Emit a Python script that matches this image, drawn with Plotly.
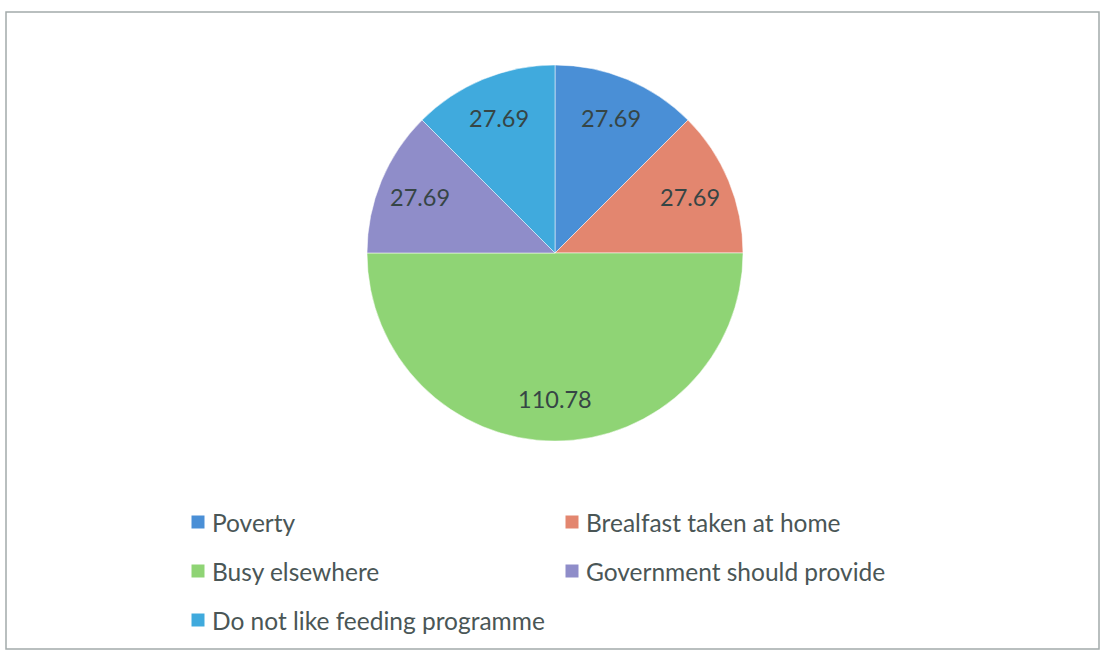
import math
import plotly.graph_objects as go

# Reasons given, in clockwise order from 12 o'clock
categories = [
    "Poverty",
    "Brealfast taken at home",
    "Busy elsewhere",
    "Government should provide",
    "Do not like feeding programme",
]
values = [27.69, 27.69, 110.78, 27.69, 27.69]
colors = ["#4a8fd6", "#e3866f", "#8fd475", "#8f8dc9", "#40aadd"]

W, H = 1102, 652
CX, CY, R = 555, 253, 188  # pie centre and radius in pixels
LABEL_FONT = dict(family="Lato, Open Sans, sans-serif", size=23.5, color="#364545")
LEGEND_FONT = dict(family="Lato, Open Sans, sans-serif", size=24.5, color="#4a5656")


def px(x):
    return x / W


def py(y):
    return 1 - y / H


fig = go.Figure(
    go.Pie(
        labels=categories,
        values=values,
        sort=False,
        direction="clockwise",
        rotation=0,
        marker=dict(colors=colors, line=dict(color="rgba(255,255,255,0.5)", width=1)),
        textinfo="none",
        hoverinfo="label+value",
        showlegend=False,
        domain=dict(x=[px(CX - R), px(CX + R)], y=[py(CY + R), py(CY - R)]),
    )
)

annotations = []
shapes = []

# Value labels placed along each slice's mid-angle
total = sum(values)
cum = 0.0
for v in values:
    mid = (cum + v / 2) / total * 2 * math.pi
    cum += v
    r = 0.775 * R
    lx = CX + r * math.sin(mid)
    ly = CY - r * math.cos(mid)
    annotations.append(
        dict(
            x=px(lx), y=py(ly), xref="paper", yref="paper",
            text=f"{v:.2f}", showarrow=False,
            xanchor="center", yanchor="middle", font=LABEL_FONT,
        )
    )

# Two-column legend below the pie
col_x = [198, 572]
row_y = [522, 571, 620]
sq = 6.5
for i, (name, c) in enumerate(zip(categories, colors)):
    x0 = col_x[i % 2]
    y0 = row_y[i // 2]
    shapes.append(
        dict(
            type="rect", xref="paper", yref="paper",
            x0=px(x0 - sq), x1=px(x0 + sq), y0=py(y0 + sq), y1=py(y0 - sq),
            fillcolor=c, line=dict(width=0),
        )
    )
    annotations.append(
        dict(
            x=px(x0 + 12), y=py(y0), xref="paper", yref="paper",
            text=name, showarrow=False,
            xanchor="left", yanchor="middle", font=LEGEND_FONT,
        )
    )

# Chart area border
shapes.append(
    dict(
        type="rect", xref="paper", yref="paper",
        x0=px(6), x1=px(1099), y0=py(649), y1=py(12),
        line=dict(color="#a3abab", width=1.5), fillcolor="rgba(0,0,0,0)",
    )
)

fig.update_layout(
    width=W, height=H,
    margin=dict(l=0, r=0, t=0, b=0),
    paper_bgcolor="white",
    plot_bgcolor="white",
    annotations=annotations,
    shapes=shapes,
)

fig.write_html("out.html")
